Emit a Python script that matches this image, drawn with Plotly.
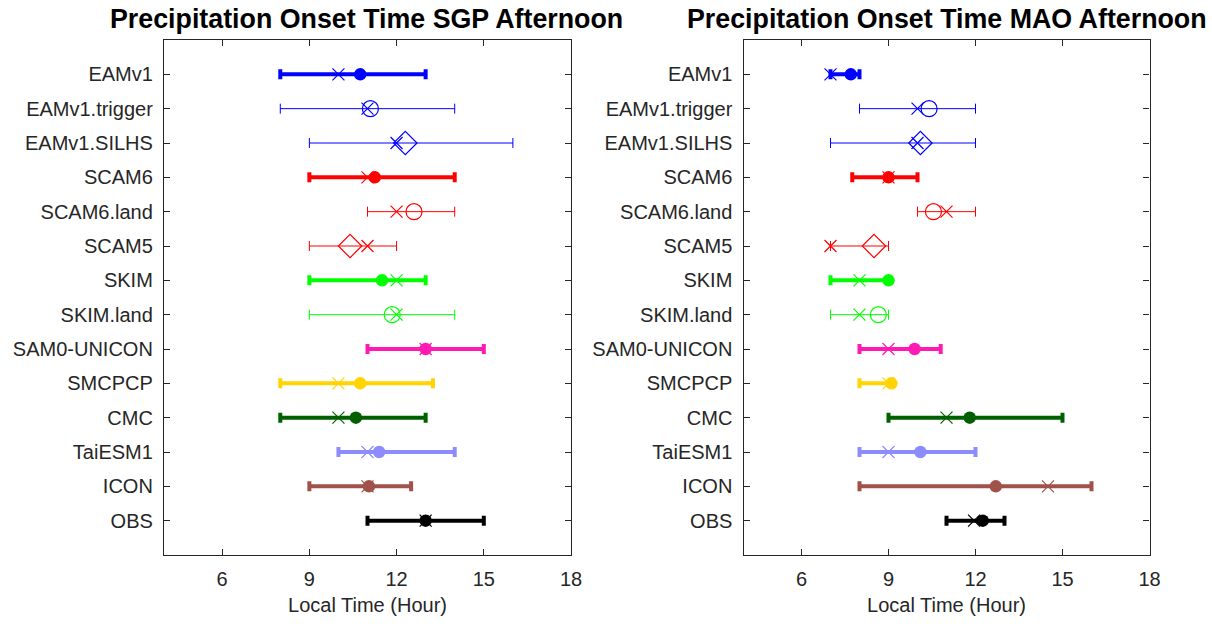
import plotly.graph_objects as go

models = ["EAMv1", "EAMv1.trigger", "EAMv1.SILHS", "SCAM6", "SCAM6.land", "SCAM5",
          "SKIM", "SKIM.land", "SAM0-UNICON", "SMCPCP", "CMC", "TaiESM1", "ICON", "OBS"]

# SGP afternoon: range (low/high), circle/diamond marker value, X marker value
sgp_low = [8, 8, 9, 9, 11, 9, 9, 9, 11, 8, 8, 10, 9, 11]
sgp_high = [13, 14, 16, 14, 14, 12, 13, 14, 15, 13.25, 13, 14, 12.5, 15]
sgp_mean = [10.75, 11.1, 12.3, 11.25, 12.6, 10.4, 11.5, 11.85, 13.0, 10.75, 10.6, 11.4, 11.05, 13.0]
sgp_x = [10, 11, 12, 11, 12, 11, 12, 12, 13, 10, 10, 11, 11, 13]

# MAO afternoon
mao_low = [7, 8, 7, 7.75, 10, 7, 7, 7, 8, 8, 9, 8, 8, 11]
mao_high = [8, 12, 12, 10, 12, 9, 9, 9, 10.8, 9.1, 15, 12, 16, 13]
mao_mean = [7.7, 10.4, 10.1, 9, 10.55, 8.5, 9, 8.65, 9.9, 9.1, 11.8, 10.1, 12.7, 12.25]
mao_x = [7, 10, 10, 9, 11, 7, 8, 8, 9, 9, 11, 9, 14.5, 11.95]

x_ticks = [6, 9, 12, 15, 18]

colors = ["#0000ff", "#0000ff", "#0000ff", "#ff0000", "#ff0000", "#ff0000",
          "#00ff00", "#00ff00", "#ff1ab3", "#ffd400", "#006000", "#8c8cff", "#a0524a", "#000000"]
widths = [4, 1, 1, 4, 1, 1, 4, 1, 4, 4, 4, 4, 4, 4]
symbols = ["circle", "circle-open", "diamond-open", "circle", "circle-open", "diamond-open",
           "circle", "circle-open", "circle", "circle", "circle", "circle", "circle", "circle"]

n = len(models)
ypos = [n - i for i in range(n)]  # EAMv1 at top

fig = go.Figure()
FONT = "Liberation Sans, Arial, Helvetica, sans-serif"
AXC = "#262626"


def add_panel(low, high, mean, xm, xa, ya):
    for i in range(n):
        c = colors[i]
        # X marker
        fig.add_trace(go.Scatter(
            x=[xm[i]], y=[ypos[i]], mode="markers", xaxis=xa, yaxis=ya,
            marker=dict(symbol="x-thin", size=12, color=c,
                        line=dict(color=c, width=1.2)),
            showlegend=False, hoverinfo="skip"))
        sym = symbols[i]
        if sym == "circle":
            mk = dict(symbol="circle", size=12.5, color=c, line=dict(width=0))
        elif sym == "circle-open":
            mk = dict(symbol="circle-open", size=16, color=c, line=dict(color=c, width=1.2))
        else:
            mk = dict(symbol="diamond-open", size=18, color=c, line=dict(color=c, width=1.2))
        fig.add_trace(go.Scatter(
            x=[mean[i]], y=[ypos[i]], mode="markers", xaxis=xa, yaxis=ya,
            marker=mk,
            error_x=dict(type="data", symmetric=False,
                         array=[high[i] - mean[i]], arrayminus=[mean[i] - low[i]],
                         color=c, thickness=widths[i], width=5),
            showlegend=False, hoverinfo="skip"))


add_panel(sgp_low, sgp_high, sgp_mean, sgp_x, "x", "y")
add_panel(mao_low, mao_high, mao_mean, mao_x, "x2", "y2")

W, H = 1212, 624
WE = 1201.0  # effective rendered width observed
ydom = [(624 - 555) / H, (624 - 40) / H]

common_x = dict(range=[4, 18], tickvals=x_ticks, ticktext=[str(t) for t in x_ticks],
                showline=True, linecolor=AXC, linewidth=1.3, mirror="ticks",
                ticks="inside", ticklen=6, tickwidth=1.3, tickcolor=AXC,
                showgrid=False, zeroline=False,
                tickfont=dict(family=FONT, size=20, color=AXC),
                ticklabelstandoff=6,
                title=dict(text="Local Time (Hour)", font=dict(family=FONT, size=20, color=AXC),
                           standoff=8))
common_y = dict(range=[0, 15], tickvals=ypos, ticktext=models,
                showline=True, linecolor=AXC, linewidth=1.3, mirror="ticks",
                ticks="inside", ticklen=6, tickwidth=1.3, tickcolor=AXC,
                showgrid=False, zeroline=False,
                tickfont=dict(family=FONT, size=20, color=AXC),
                ticklabelstandoff=6)

fig.update_layout(
    width=W, height=H,
    margin=dict(l=0, r=0, t=0, b=0),
    paper_bgcolor="white", plot_bgcolor="white",
    xaxis=dict(domain=[164 / WE, 571 / WE], anchor="y", **common_x),
    yaxis=dict(domain=ydom, anchor="x", **common_y),
    xaxis2=dict(domain=[743.5 / WE, 1149.5 / WE], anchor="y2", **common_x),
    yaxis2=dict(domain=ydom, anchor="x2", **common_y),
    annotations=[
        dict(text="<b>Precipitation Onset Time SGP Afternoon</b>", x=366 / WE, y=1 - 19 / H,
             xref="paper", yref="paper", xanchor="center", yanchor="middle", showarrow=False,
             font=dict(family=FONT, size=26.8, color="#000000")),
        dict(text="<b>Precipitation Onset Time MAO Afternoon</b>", x=946.5 / WE, y=1 - 19 / H,
             xref="paper", yref="paper", xanchor="center", yanchor="middle", showarrow=False,
             font=dict(family=FONT, size=26.8, color="#000000")),
    ],
)

fig.write_html("out.html")
